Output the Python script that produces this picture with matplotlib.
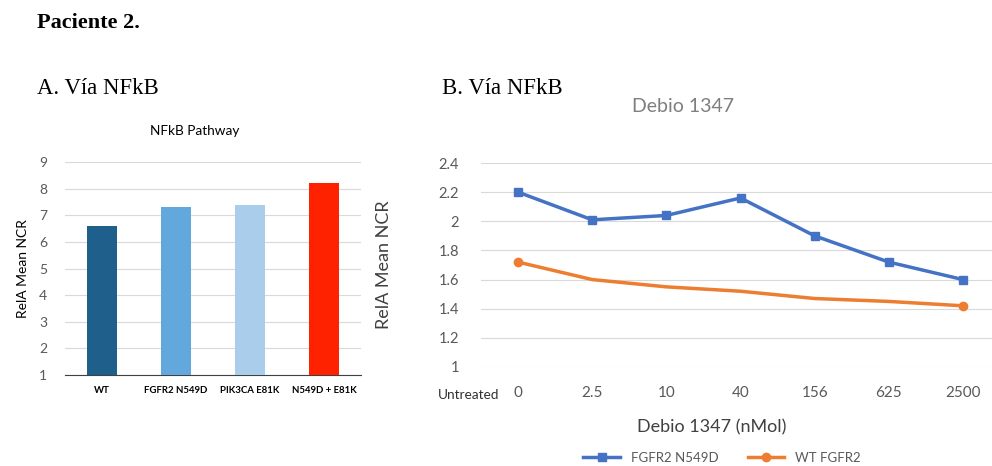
import matplotlib.pyplot as plt
import numpy as np

# panel A: NFkB pathway by genotype
genotypes = ['WT', 'FGFR2 N549D', 'PIK3CA E81K', 'N549D + E81K']
rela_ncr = [6.6, 7.3, 7.4, 8.2]
bar_colors = ['#1F5F8B', '#62A8DC', '#A9CDEB', '#FF2200']

# panel B: Debio 1347 dose response
doses = ['0', '2.5', '10', '40', '156', '625', '2500']
fgfr2_n549d = [2.2, 2.01, 2.04, 2.16, 1.9, 1.72, 1.6]
wt_fgfr2 = [1.72, 1.6, 1.55, 1.52, 1.47, 1.45, 1.42]

W, H = 992, 466
fig = plt.figure(figsize=(W / 100, H / 100), dpi=100)
plt.rcParams['font.family'] = ['Lato', 'DejaVu Sans']

def box(x0, y0, x1, y1):
    # pixel box (top-left origin) -> figure fraction
    return [x0 / W, 1 - y1 / H, (x1 - x0) / W, (y1 - y0) / H]

serif = 'Liberation Serif'
fig.text(37 / W, 1 - 23 / H, 'Paciente 2.', family=serif, weight='bold', fontsize=16, va='center')
fig.text(37 / W, 1 - 88 / H, 'A. Vía NFkB', family=serif, fontsize=16.4, va='center')
fig.text(442 / W, 1 - 88 / H, 'B. Vía NFkB', family=serif, fontsize=16.4, va='center')

grey = '#595959'
grid = '#D9D9D9'

# --- bar chart
ax1 = fig.add_axes(box(65, 162, 361, 375))
x = np.arange(len(genotypes))
ax1.bar(x, [v - 1 for v in rela_ncr], bottom=1, width=0.41, color=bar_colors, zorder=3)
ax1.set_ylim(1, 9)
ax1.set_xlim(-0.5, 3.5)
ax1.set_yticks(range(1, 10))
ax1.yaxis.grid(True, color=grid, lw=0.8, zorder=0)
for s in ['top', 'right', 'left']:
    ax1.spines[s].set_visible(False)
ax1.spines['bottom'].set_color('#404040')
ax1.tick_params(axis='y', length=0, labelsize=10, labelcolor=grey, pad=13)
ax1.tick_params(axis='x', length=0, pad=8)
ax1.set_xticks(x)
ax1.set_xticklabels(genotypes, fontsize=6.9, weight='bold')
ax1.set_ylabel('RelA Mean NCR', fontsize=10, labelpad=7)
fig.text(195 / W, 1 - 131 / H, 'NFkB Pathway', fontsize=9.8, ha='center', va='center')

# --- line chart
ax2 = fig.add_axes(box(481, 163, 1000, 367))
xi = np.arange(len(doses))
ax2.plot(xi, fgfr2_n549d, color='#4472C4', lw=2.5, marker='s', ms=6, label='FGFR2 N549D')
ax2.plot(xi, wt_fgfr2, color='#ED7D31', lw=2.5, marker='o', ms=6, markevery=[0, -1],
         label='WT FGFR2')
ax2.set_ylim(1, 2.4)
ax2.set_xlim(-0.5, 6.5)
ax2.set_yticks(np.arange(1, 2.41, 0.2))
ax2.set_yticklabels(['1', '1.2', '1.4', '1.6', '1.8', '2', '2.2', '2.4'])
ax2.yaxis.grid(True, color=grid, lw=0.8)
for s in ax2.spines.values():
    s.set_visible(False)
ax2.tick_params(axis='y', length=0, labelsize=10.5, labelcolor=grey, pad=16)
ax2.set_xticks(xi)
ax2.set_xticklabels(doses, fontsize=11, color=grey)
ax2.tick_params(axis='x', length=0, pad=14)
ax2.set_ylabel('RelA Mean NCR', fontsize=13, color='#404040')
ax2.yaxis.set_label_coords(-(481 - 392) / 519, 0.5)
ax2.set_xlabel('Debio 1347 (nMol)', fontsize=13, color='#404040')
ax2.xaxis.set_label_coords((712 - 481) / 519, -(419 - 367) / 204)
fig.text(499 / W, 1 - 395 / H, 'Untreated', fontsize=9.8, ha='right', va='center', color='#303030')
fig.text(683 / W, 1 - 107 / H, 'Debio 1347', fontsize=14, color='#7F7F7F', ha='center', va='center')
fig.legend(loc='center', bbox_to_anchor=(722 / W, 1 - 458 / H), ncol=2, frameon=False,
           fontsize=9.5, labelcolor=grey, handlelength=2.8, columnspacing=2.2)

fig.savefig('out.png', dpi=100)
